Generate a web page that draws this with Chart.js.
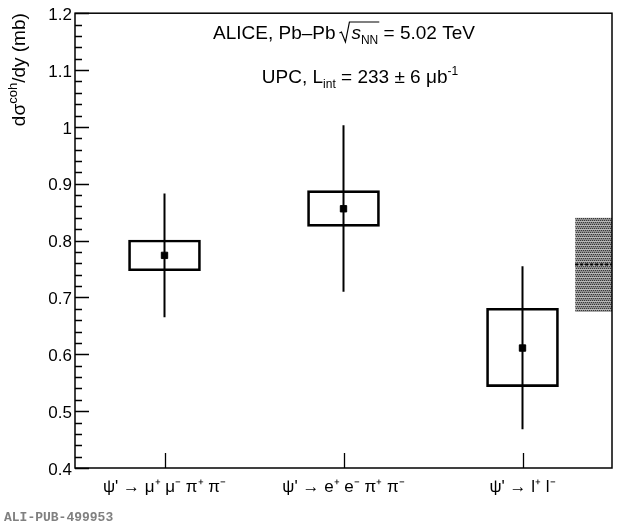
<!DOCTYPE html>
<html>
<head>
<meta charset="utf-8">
<script src="https://cdn.jsdelivr.net/npm/chart.js@4.4.1/dist/chart.umd.min.js"></script>
<style>
  body { margin: 0; background: #fff; }
  #wrap { width: 620px; height: 528px; }
</style>
</head>
<body>
<div id="wrap"><canvas id="xsec"></canvas></div>
<script>
// values
const categories = ["ψ' → μ⁺ μ⁻ π⁺ π⁻", "ψ' → e⁺ e⁻ π⁺ π⁻", "ψ' → l⁺ l⁻"];
const central = [0.774, 0.856, 0.611];
const statLow = [0.665, 0.710, 0.468];
const statHigh = [0.883, 1.003, 0.755];
const systLow = [0.747, 0.825, 0.543];
const systHigh = [0.801, 0.888, 0.681];
const avgBand = [0.675, 0.758, 0.840]; // low, mean, high
const yTicks = [0.4, 0.5, 0.6, 0.7, 0.8, 0.9, 1.0, 1.1, 1.2];

const FONT = '"Liberation Sans", Arial, Helvetica, sans-serif';
const BAND_X0 = 2.294, BAND_X1 = 2.5;

function makePattern() {
  const c = document.createElement('canvas');
  c.width = 4; c.height = 4;
  const g = c.getContext('2d');
  g.fillStyle = '#8e8e8e';
  g.fillRect(0, 0, 4, 4);
  g.fillStyle = '#b8b8b8';
  g.fillRect(0, 1, 4, 1);
  g.fillStyle = '#383838';
  [[0, 0], [2, 0], [1, 2], [3, 2]].forEach(p => g.fillRect(p[0], p[1], 1, 1));
  return document.getElementById('xsec').getContext('2d').createPattern(c, 'repeat');
}

// draws a run of text pieces; piece = {t, size, dy, italic, over}
function richText(ctx, x, y, pieces, align) {
  const fontOf = p => (p.italic ? 'italic ' : '') + (p.size || 19) + 'px ' + FONT;
  let total = 0;
  pieces.forEach(p => { ctx.font = fontOf(p); p.w = ctx.measureText(p.t).width; total += p.w; });
  let cx = align === 'center' ? x - total / 2 : (align === 'right' ? x - total : x);
  const spans = [];
  pieces.forEach(p => {
    ctx.font = fontOf(p);
    ctx.fillText(p.t, cx, y + (p.dy || 0));
    if (p.over) spans.push([cx, cx + p.w]);
    cx += p.w;
  });
  if (spans.length) {
    const a = spans[0][0] - 1, b = spans[spans.length - 1][1] + 1;
    const top = y - 17;
    ctx.save();
    ctx.lineWidth = 1.2;
    ctx.beginPath();
    ctx.moveTo(a - 11, y - 6);
    ctx.lineTo(a - 9, y - 7);
    ctx.lineTo(a - 5, y + 3);
    ctx.lineTo(a - 1, top);
    ctx.lineTo(b, top);
    ctx.stroke();
    ctx.restore();
  }
}

const decorations = {
  id: 'decorations',
  afterDatasetsDraw(chart) {
    const { ctx, chartArea: a, scales } = chart;
    const ys = scales.y, xs = scales.x;
    ctx.save();
    ctx.strokeStyle = '#000';
    ctx.fillStyle = '#000';
    ctx.lineWidth = 1.3;
    // inward ticks, ROOT style
    ctx.beginPath();
    for (let k = 0; k <= 40; k++) {
      const v = 0.4 + k * 0.02;
      const py = Math.round(ys.getPixelForValue(v)) + 0.5;
      ctx.moveTo(a.left, py);
      ctx.lineTo(a.left + (k % 5 === 0 ? 14 : 7), py);
    }
    categories.forEach((c, i) => {
      const px = Math.round(xs.getPixelForValue(i)) + 0.5;
      ctx.moveTo(px, a.bottom);
      ctx.lineTo(px, a.bottom - 15);
    });
    ctx.stroke();
    ctx.lineWidth = 1.5;
    ctx.strokeRect(a.left, a.top, a.right - a.left, a.bottom - a.top);

    ctx.textBaseline = 'alphabetic';
    richText(ctx, 344, 39, [
      { t: 'ALICE, Pb–Pb ' },
      { t: '  ' },
      { t: 's', italic: true, over: true },
      { t: 'NN', size: 12, dy: 5, over: true },
      { t: ' = 5.02 TeV' }
    ], 'center');
    richText(ctx, 360, 83, [
      { t: 'UPC, L' },
      { t: 'int', size: 12, dy: 5 },
      { t: ' = 233 ± 6 μb' },
      { t: '-1', size: 12, dy: -8 }
    ], 'center');

    // y-axis title, aligned to the top of the frame
    ctx.save();
    ctx.translate(25, a.top);
    ctx.rotate(-Math.PI / 2);
    richText(ctx, 0, 0, [
      { t: 'dσ' },
      { t: 'coh', size: 13, dy: -8 },
      { t: '/dy (mb)' }
    ], 'right');
    ctx.restore();

    ctx.font = 'bold 13px "Liberation Mono", "DejaVu Sans Mono", monospace';
    ctx.fillStyle = '#808080';
    ctx.textBaseline = 'middle';
    ctx.fillText('ALI-PUB-499953', 4, 518);
    ctx.restore();
  }
};

const pattern = makePattern();

const datasets = [];
datasets.push({
  type: 'scatter',
  data: central.map((v, i) => ({ x: i, y: v })),
  backgroundColor: '#000',
  borderColor: '#000',
  pointStyle: 'rect',
  pointRadius: 4.5,
  order: 0
});
categories.forEach((c, i) => {
  datasets.push({
    type: 'line',
    data: [{ x: i, y: statLow[i] }, { x: i, y: statHigh[i] }],
    borderColor: '#000',
    borderWidth: 2,
    pointRadius: 0,
    order: 1
  });
});
datasets.push({
  type: 'bar',
  data: categories.map((c, i) => ({ x: i, y: [systLow[i], systHigh[i]] })),
  backgroundColor: 'rgba(0,0,0,0)',
  borderColor: '#000',
  borderWidth: 2,
  borderSkipped: false,
  barThickness: 72,
  order: 2
});
datasets.push({
  type: 'line',
  data: [{ x: BAND_X0, y: avgBand[2] }, { x: BAND_X1, y: avgBand[2] }],
  borderWidth: 0,
  pointRadius: 0,
  fill: false,
  order: 4
});
datasets.push({
  type: 'line',
  data: [{ x: BAND_X0, y: avgBand[0] }, { x: BAND_X1, y: avgBand[0] }],
  borderWidth: 0,
  pointRadius: 0,
  backgroundColor: pattern,
  fill: '-1',
  order: 4
});
datasets.push({
  type: 'line',
  data: [{ x: BAND_X0, y: avgBand[1] }, { x: BAND_X1, y: avgBand[1] }],
  borderColor: '#000',
  borderWidth: 2,
  borderDash: [3, 2],
  pointRadius: 0,
  order: 3
});

window.xsecChart = new Chart(document.getElementById('xsec').getContext('2d'), {
  data: { datasets: datasets },
  options: {
    responsive: true,
    maintainAspectRatio: false,
    animation: false,
    layout: { padding: { left: 0, right: 8, top: 8, bottom: 0 } },
    plugins: {
      legend: { display: false },
      tooltip: { enabled: false }
    },
    scales: {
      x: {
        type: 'linear',
        min: -0.5,
        max: 2.5,
        offset: false,
        afterBuildTicks: s => { s.ticks = categories.map((c, i) => ({ value: i })); },
        afterFit: s => { s.height = 60; },
        grid: { display: false, drawTicks: false, offset: false },
        border: { display: false },
        ticks: {
          callback: v => categories[v],
          autoSkip: false,
          maxRotation: 0,
          padding: 9,
          color: '#000',
          font: { family: FONT, size: 17 }
        }
      },
      y: {
        min: 0.4,
        max: 1.2,
        afterBuildTicks: s => { s.ticks = yTicks.map(v => ({ value: v })); },
        afterFit: s => { s.width = 75; },
        grid: { display: false, drawTicks: false },
        border: { display: false },
        ticks: {
          callback: v => String(+v.toFixed(1)),
          padding: 3,
          labelOffset: 2,
          color: '#000',
          font: { family: FONT, size: 17 }
        }
      }
    }
  },
  plugins: [decorations]
});
</script>
</body>
</html>
